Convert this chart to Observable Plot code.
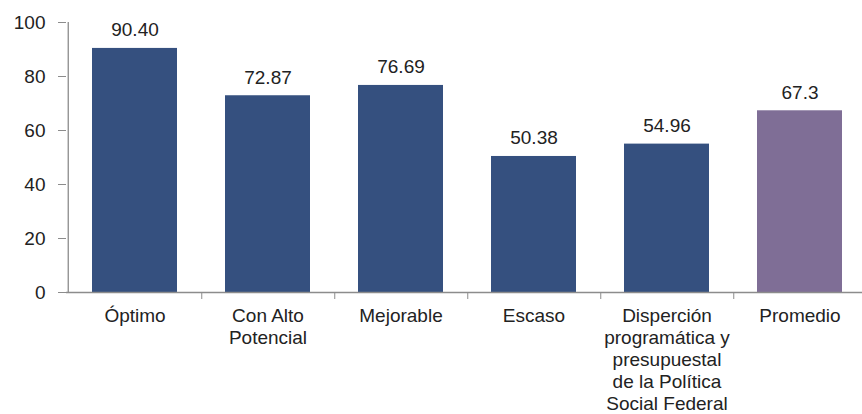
<!DOCTYPE html>
<html>
<head>
<meta charset="utf-8">
<script src="https://cdn.jsdelivr.net/npm/d3@7"></script>
<script src="https://cdn.jsdelivr.net/npm/@observablehq/plot@0.6"></script>
<style>
  html, body { margin: 0; padding: 0; background: #fff; overflow: hidden; }
</style>
</head>
<body>
<div id="chart"></div>
<script>
const categories = ["Óptimo", "Con Alto Potencial", "Mejorable", "Escaso", "Disperción programática y presupuestal de la Política Social Federal", "Promedio"];
const tickLabels = ["Óptimo", "Con Alto\nPotencial", "Mejorable", "Escaso", "Disperción\nprogramática y\npresupuestal\nde la Política\nSocial Federal", "Promedio"];
const values = [90.40, 72.87, 76.69, 50.38, 54.96, 67.3];
const valueLabels = ["90.40", "72.87", "76.69", "50.38", "54.96", "67.3"];
const barColors = ["#35507f", "#35507f", "#35507f", "#35507f", "#35507f", "#7f6e96"];
const yTicks = [0, 20, 40, 60, 80, 100];

const data = categories.map((c, i) => ({cat: c, value: values[i], label: valueLabels[i], color: barColors[i], tick: tickLabels[i]}));
const labelOf = new Map(categories.map((c, i) => [c, tickLabels[i]]));

const W = 862, H = 414, mL = 66, mR = -5, mT = 22, mB = 122;
const step = (W - mL - mR) / categories.length;
const font = "Liberation Sans, Arial, sans-serif";

const chart = Plot.plot({
  width: W,
  height: H,
  marginLeft: mL,
  marginRight: mR,
  marginTop: mT,
  marginBottom: mB,
  style: {fontFamily: font, fontSize: "19px", color: "#222", background: "#fff"},
  x: {domain: categories, padding: 0, axis: null},
  y: {domain: [0, 100], axis: null},
  marks: [
    Plot.barY(data, {x: "cat", y: "value", fill: "color", insetLeft: 24, insetRight: 24}),
    Plot.text(data, {x: "cat", y: "value", text: "label", lineAnchor: "bottom", dy: -12, fontSize: 19, fill: "#222"}),
    Plot.ruleY([0], {stroke: "#8c8c8c", strokeWidth: 1.3}),
    Plot.ruleX([categories[0]], {dx: -step / 2, stroke: "#8c8c8c", strokeWidth: 1.3}),
    Plot.axisY({ticks: yTicks, tickSize: 8, tickPadding: 13, stroke: "#8c8c8c", fill: "#222", fontSize: 19, tickFormat: d => String(d), label: null}),
    Plot.axisX({tickSize: 7, dx: step / 2, tickFormat: () => "", stroke: "#8c8c8c", label: null}),
    Plot.axisX({tickSize: 0, tickPadding: 14, tickFormat: d => labelOf.get(d), fontSize: 19, lineHeight: 1.16, fill: "#222", label: null})
  ]
});
document.getElementById("chart").append(chart);
</script>
</body>
</html>
